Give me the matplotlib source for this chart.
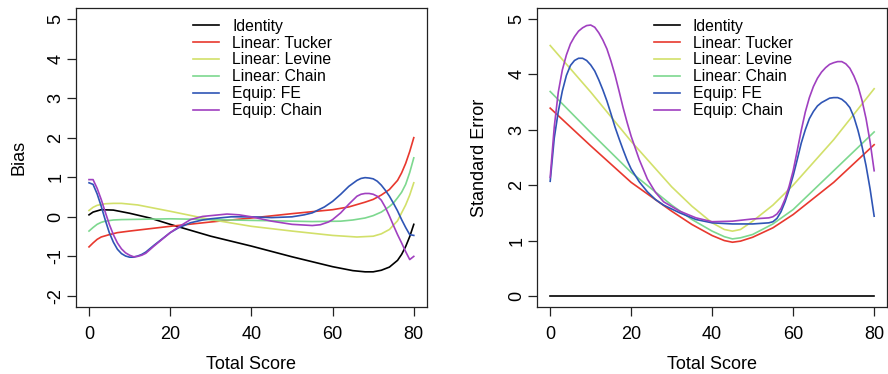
import matplotlib
matplotlib.use("Agg")
import matplotlib.pyplot as plt

plt.rcParams['font.family'] = ['Liberation Sans', 'DejaVu Sans']

labels = ['Identity', 'Linear: Tucker', 'Linear: Levine', 'Linear: Chain', 'Equip: FE', 'Equip: Chain']
colors = ['#000000', '#E8382E', '#D2E06A', '#7DD88F', '#2F55B5', '#A040C0']

# ---- Bias panel (x, y per series) ----
bias_identity_x = [0, 1, 3, 6, 10, 15, 20, 30, 40, 50, 60, 65, 68, 70, 72, 74, 76, 77, 78, 79, 80]
bias_identity_y = [0.05, 0.12, 0.18, 0.17, 0.09, -0.03, -0.19, -0.49, -0.74, -1.01, -1.26, -1.36, -1.39, -1.39, -1.35, -1.27, -1.10, -0.95, -0.75, -0.50, -0.19]

bias_tucker_x = [0, 1, 2, 3, 5, 7, 10, 15, 20, 30, 40, 50, 60, 64, 66, 68, 70, 72, 74, 76, 77, 78, 79, 80]
bias_tucker_y = [-0.76, -0.66, -0.57, -0.51, -0.45, -0.40, -0.36, -0.30, -0.24, -0.13, -0.03, 0.08, 0.18, 0.25, 0.31, 0.37, 0.44, 0.55, 0.69, 0.92, 1.11, 1.35, 1.65, 2.0]

bias_levine_x = [0, 1, 2, 4, 6, 8, 12, 16, 20, 30, 40, 50, 60, 66, 70, 72, 74, 76, 77, 78, 79, 80]
bias_levine_y = [0.16, 0.24, 0.29, 0.33, 0.34, 0.34, 0.30, 0.22, 0.14, -0.07, -0.24, -0.36, -0.47, -0.51, -0.49, -0.43, -0.32, -0.10, 0.10, 0.30, 0.55, 0.86]

bias_lchain_x = [0, 1, 2, 3, 4, 6, 8, 20, 40, 55, 62, 65, 68, 70, 72, 74, 75, 76, 77, 78, 79, 80]
bias_lchain_y = [-0.36, -0.27, -0.19, -0.14, -0.11, -0.08, -0.07, -0.05, -0.09, -0.12, -0.11, -0.08, -0.03, 0.03, 0.12, 0.26, 0.35, 0.48, 0.62, 0.82, 1.12, 1.49]

bias_efe_x = [0, 1, 2, 3, 4, 5, 6, 7, 8, 9, 10, 11, 12, 13, 14, 16, 18, 20, 22, 25, 28, 30, 35, 40, 45, 50, 53, 55, 58, 60, 62, 64, 66, 67, 68, 69, 70, 71, 72, 73, 74, 75, 76, 77, 78, 79, 80]
bias_efe_y = [0.86, 0.82, 0.58, 0.27, -0.08, -0.40, -0.64, -0.82, -0.93, -0.99, -1.02, -1.02, -0.99, -0.95, -0.89, -0.72, -0.56, -0.40, -0.28, -0.15, -0.08, -0.05, 0.0, 0.0, -0.02, 0.0, 0.05, 0.10, 0.25, 0.39, 0.57, 0.77, 0.92, 0.97, 0.99, 0.98, 0.96, 0.90, 0.80, 0.67, 0.52, 0.34, 0.15, -0.07, -0.27, -0.45, -0.47]

bias_echain_x = [0, 1, 2, 3, 4, 5, 6, 7, 8, 9, 10, 11, 12, 13, 14, 16, 18, 20, 22, 25, 28, 30, 34, 37, 40, 45, 50, 55, 57, 59, 60, 62, 64, 66, 67, 68, 69, 70, 71, 72, 73, 74, 75, 76, 77, 78, 79, 80]
bias_echain_y = [0.94, 0.94, 0.72, 0.44, 0.12, -0.19, -0.45, -0.66, -0.81, -0.91, -0.97, -1.01, -1.00, -0.97, -0.92, -0.74, -0.57, -0.40, -0.26, -0.07, 0.01, 0.03, 0.07, 0.05, 0.0, -0.11, -0.19, -0.22, -0.20, -0.13, -0.07, 0.10, 0.32, 0.52, 0.57, 0.59, 0.59, 0.57, 0.52, 0.42, 0.24, 0.02, -0.22, -0.45, -0.66, -0.88, -1.08, -1.00]

# ---- Standard error panel ----
se_identity_x = [0, 80]
se_identity_y = [0.0, 0.0]

se_tucker_x = [0, 10, 20, 30, 35, 40, 43, 45, 47, 50, 55, 60, 70, 80]
se_tucker_y = [3.39, 2.71, 2.05, 1.53, 1.29, 1.09, 1.00, 0.97, 0.99, 1.06, 1.23, 1.47, 2.05, 2.73]

se_lchain_x = [0, 10, 20, 30, 35, 40, 43, 45, 47, 50, 55, 60, 70, 80]
se_lchain_y = [3.69, 2.95, 2.23, 1.64, 1.38, 1.17, 1.07, 1.03, 1.05, 1.11, 1.30, 1.56, 2.26, 2.96]

se_levine_x = [0, 10, 20, 30, 35, 40, 43, 45, 47, 50, 55, 60, 70, 80]
se_levine_y = [4.52, 3.68, 2.79, 1.97, 1.62, 1.32, 1.20, 1.17, 1.20, 1.35, 1.64, 2.00, 2.82, 3.74]

se_efe_x = [0, 1, 2, 3, 4, 5, 6, 7, 8, 9, 10, 11, 12, 13, 14, 15, 16, 17, 18, 19, 20, 22, 24, 26, 28, 32, 36, 40, 45, 50, 54, 55, 56, 57, 58, 59, 60, 61, 62, 63, 64, 65, 66, 67, 68, 69, 70, 71, 72, 73, 74, 75, 76, 77, 78, 79, 80]
se_efe_y = [2.07, 2.85, 3.33, 3.70, 3.98, 4.16, 4.25, 4.29, 4.29, 4.25, 4.17, 4.06, 3.90, 3.72, 3.52, 3.29, 3.05, 2.84, 2.64, 2.45, 2.29, 2.06, 1.88, 1.74, 1.64, 1.50, 1.38, 1.32, 1.30, 1.30, 1.32, 1.34, 1.40, 1.52, 1.70, 1.92, 2.17, 2.46, 2.76, 3.00, 3.20, 3.33, 3.43, 3.49, 3.53, 3.57, 3.58, 3.58, 3.55, 3.49, 3.40, 3.23, 2.99, 2.70, 2.35, 1.93, 1.44]

se_echain_x = [0, 1, 2, 3, 4, 5, 6, 7, 8, 9, 10, 11, 12, 13, 14, 15, 16, 17, 18, 19, 20, 22, 24, 26, 28, 32, 36, 40, 45, 50, 54, 55, 56, 57, 58, 59, 60, 61, 62, 63, 64, 65, 66, 67, 68, 69, 70, 71, 72, 73, 74, 75, 76, 77, 78, 79, 80]
se_echain_y = [2.14, 3.05, 3.68, 4.08, 4.35, 4.55, 4.68, 4.78, 4.84, 4.88, 4.89, 4.85, 4.75, 4.62, 4.46, 4.24, 3.99, 3.70, 3.40, 3.13, 2.88, 2.46, 2.11, 1.87, 1.70, 1.53, 1.41, 1.34, 1.35, 1.39, 1.41, 1.43, 1.48, 1.58, 1.75, 1.98, 2.26, 2.62, 2.99, 3.32, 3.58, 3.78, 3.93, 4.04, 4.12, 4.18, 4.21, 4.23, 4.23, 4.19, 4.11, 3.97, 3.79, 3.53, 3.20, 2.78, 2.26]

bias_series = [(bias_identity_x, bias_identity_y), (bias_tucker_x, bias_tucker_y),
               (bias_levine_x, bias_levine_y), (bias_lchain_x, bias_lchain_y),
               (bias_efe_x, bias_efe_y), (bias_echain_x, bias_echain_y)]
se_series = [(se_identity_x, se_identity_y), (se_tucker_x, se_tucker_y),
             (se_levine_x, se_levine_y), (se_lchain_x, se_lchain_y),
             (se_efe_x, se_efe_y), (se_echain_x, se_echain_y)]

fig = plt.figure(figsize=(8.88, 3.74), dpi=100)
ax1 = fig.add_axes([0.0856, 0.179, 0.395, 0.800])
ax2 = fig.add_axes([0.605, 0.179, 0.394, 0.800])


def style_axis(ax, yticks, ylim, ylabel):
    ax.set_xlim(-3.2, 83.2)
    ax.set_ylim(*ylim)
    ax.set_xticks([0, 20, 40, 60, 80])
    ax.set_yticks(yticks)
    ax.set_yticklabels([str(t) for t in yticks], rotation=90, va='center')
    ax.tick_params(direction='out', length=6.5, width=0.9, labelsize=13, color='#222222')
    ax.tick_params(axis='x', pad=7)
    ax.tick_params(axis='y', pad=2)
    for s in ax.spines.values():
        s.set_linewidth(0.9)
        s.set_color('#222222')
    ax.set_xlabel('Total Score', fontsize=13, labelpad=9.5)
    ax.set_ylabel(ylabel, fontsize=13, labelpad=14.5)
    leg = ax.legend(loc='upper left', bbox_to_anchor=(0.315, 0.985), frameon=False,
                    fontsize=11.3, handlelength=1.7, handletextpad=0.8,
                    labelspacing=0.12, borderaxespad=0.0)
    return leg


for (x, y), c, lab in zip(bias_series, colors, labels):
    ax1.plot(x, y, color=c, lw=1.2, label=lab)
style_axis(ax1, [-2, -1, 0, 1, 2, 3, 4, 5], (-2.28, 5.28), 'Bias')

for (x, y), c, lab in zip(se_series, colors, labels):
    ax2.plot(x, y, color=c, lw=1.2, label=lab)
style_axis(ax2, [0, 1, 2, 3, 4, 5], (-0.2, 5.2), 'Standard Error')

fig.savefig('out.png', dpi=100)
